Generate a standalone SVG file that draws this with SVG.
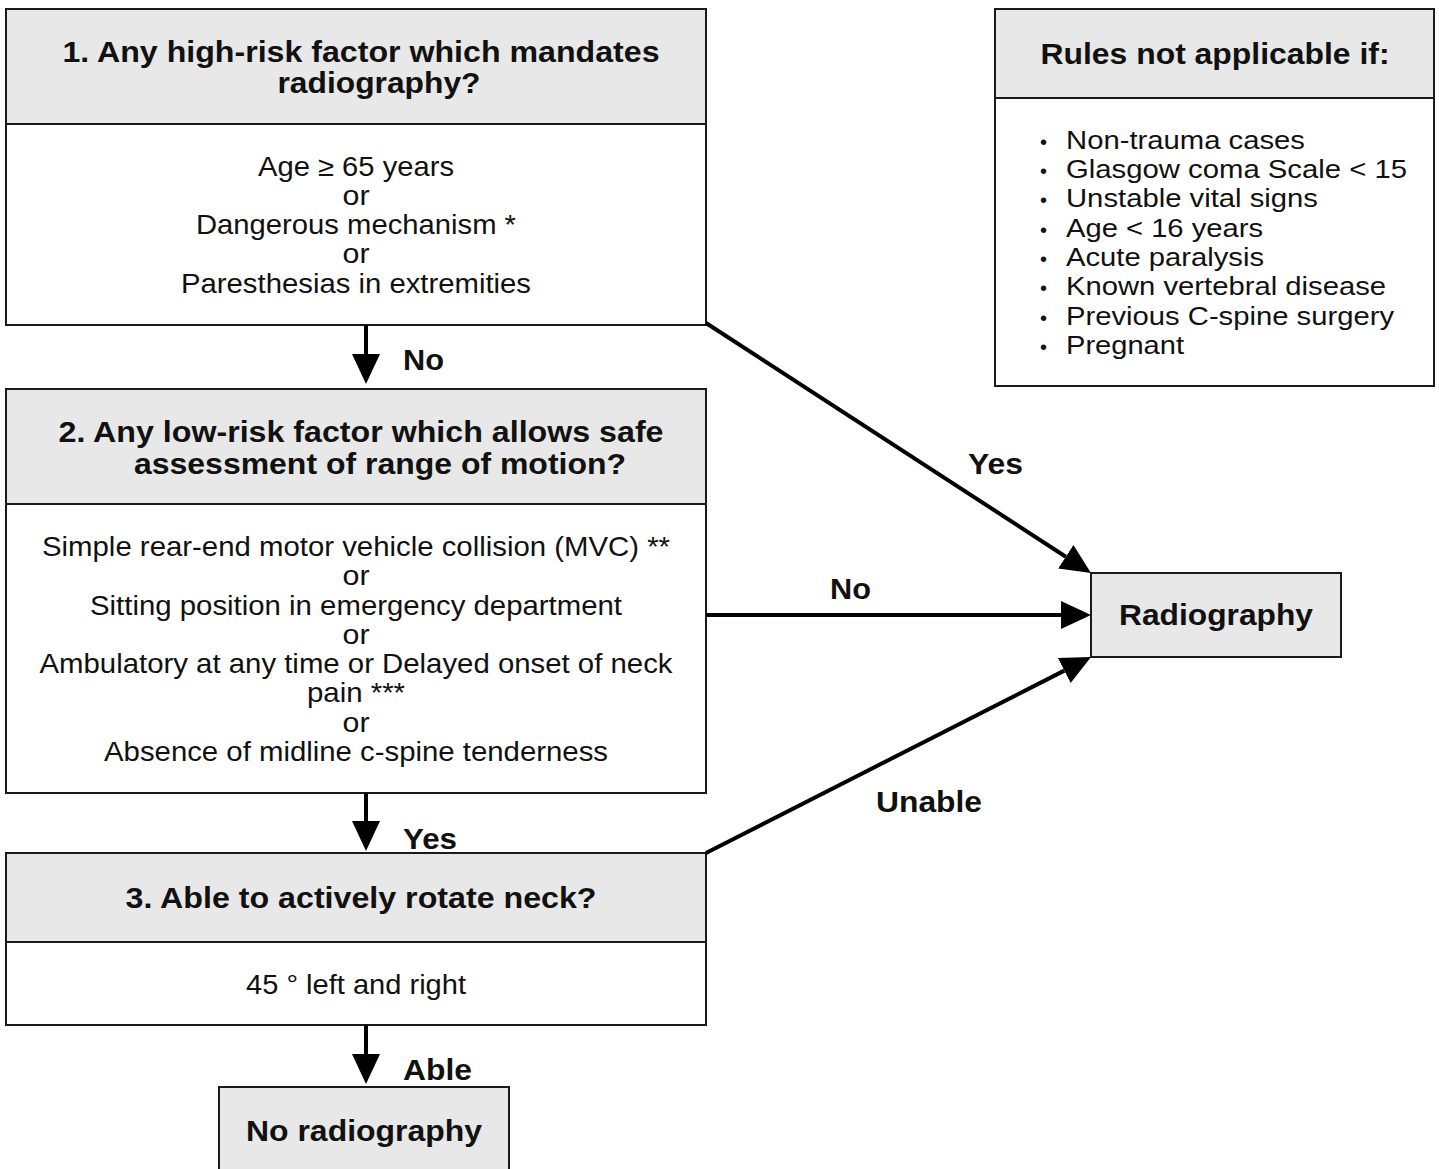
<svg xmlns="http://www.w3.org/2000/svg" width="1439" height="1169" viewBox="0 0 1439 1169">
<style>
.box{fill:#ffffff;stroke:#1a1a1a;stroke-width:2}
.hdr{fill:#e7e8e7;stroke:#1a1a1a;stroke-width:2}
.h{font-family:"Liberation Sans",Arial,sans-serif;font-weight:bold;font-size:30px;fill:#111;text-anchor:middle}
.t{font-family:"Liberation Sans",Arial,sans-serif;font-size:27.5px;fill:#111;text-anchor:middle}
.r{font-family:"Liberation Sans",Arial,sans-serif;font-size:26px;fill:#111}
.lbl{font-family:"Liberation Sans",Arial,sans-serif;font-weight:bold;font-size:29px;fill:#111}
.c{stroke:#000;stroke-width:4;fill:none;marker-end:url(#ah)}
</style>
<defs>
<marker id="ah" markerUnits="userSpaceOnUse" markerWidth="32" markerHeight="30" refX="0" refY="14" orient="auto" viewBox="0 0 32 28">
<path d="M0,0 L30,14 L0,28 z" fill="#000"/>
</marker>
</defs>
<rect width="1439" height="1169" fill="#fff"/>

<g id="node1">
<rect class="box" x="6" y="9" width="700" height="316"/>
<rect class="hdr" x="6" y="9" width="700" height="115"/>
<text class="h" x="361" y="62" textLength="597" lengthAdjust="spacingAndGlyphs">1. Any high-risk factor which mandates</text>
<text class="h" x="379" y="93" textLength="203" lengthAdjust="spacingAndGlyphs">radiography?</text>
<text class="t" x="356" y="176" textLength="196" lengthAdjust="spacingAndGlyphs">Age ≥ 65 years</text>
<text class="t" x="356" y="205" textLength="27" lengthAdjust="spacingAndGlyphs">or</text>
<text class="t" x="356" y="234" textLength="320" lengthAdjust="spacingAndGlyphs">Dangerous mechanism *</text>
<text class="t" x="356" y="263" textLength="27" lengthAdjust="spacingAndGlyphs">or</text>
<text class="t" x="356" y="293" textLength="350" lengthAdjust="spacingAndGlyphs">Paresthesias in extremities</text>
</g>

<g id="node2">
<rect class="box" x="6" y="389" width="700" height="404"/>
<rect class="hdr" x="6" y="389" width="700" height="115"/>
<text class="h" x="361" y="442" textLength="605" lengthAdjust="spacingAndGlyphs">2. Any low-risk factor which allows safe</text>
<text class="h" x="380" y="474" textLength="492" lengthAdjust="spacingAndGlyphs">assessment of range of motion?</text>
<text class="t" x="356" y="556" textLength="628" lengthAdjust="spacingAndGlyphs">Simple rear-end motor vehicle collision (MVC) **</text>
<text class="t" x="356" y="585" textLength="27" lengthAdjust="spacingAndGlyphs">or</text>
<text class="t" x="356" y="615" textLength="532" lengthAdjust="spacingAndGlyphs">Sitting position in emergency department</text>
<text class="t" x="356" y="644" textLength="27" lengthAdjust="spacingAndGlyphs">or</text>
<text class="t" x="356" y="673" textLength="633" lengthAdjust="spacingAndGlyphs">Ambulatory at any time or Delayed onset of neck</text>
<text class="t" x="356" y="702" textLength="98" lengthAdjust="spacingAndGlyphs">pain ***</text>
<text class="t" x="356" y="732" textLength="27" lengthAdjust="spacingAndGlyphs">or</text>
<text class="t" x="356" y="761" textLength="504" lengthAdjust="spacingAndGlyphs">Absence of midline c-spine tenderness</text>
</g>

<g id="node3">
<rect class="box" x="6" y="853" width="700" height="172"/>
<rect class="hdr" x="6" y="853" width="700" height="89"/>
<text class="h" x="361" y="908" textLength="471" lengthAdjust="spacingAndGlyphs">3. Able to actively rotate neck?</text>
<text class="t" x="356" y="994" textLength="220" lengthAdjust="spacingAndGlyphs">45 ° left and right</text>
</g>

<g id="noradio">
<rect class="hdr" x="219" y="1087" width="290" height="100"/>
<text class="h" x="364" y="1141" textLength="236" lengthAdjust="spacingAndGlyphs">No radiography</text>
</g>

<g id="radio">
<rect class="hdr" x="1091" y="573" width="250" height="84"/>
<text class="h" x="1216" y="625" textLength="194" lengthAdjust="spacingAndGlyphs">Radiography</text>
</g>

<g id="rules">
<rect class="box" x="995" y="9" width="439" height="377"/>
<rect class="hdr" x="995" y="9" width="439" height="89"/>
<text class="h" x="1215" y="64" textLength="349" lengthAdjust="spacingAndGlyphs">Rules not applicable if:</text>
<g class="r">
<text x="1040" y="149" font-size="20">•</text><text x="1066" y="149" textLength="239" lengthAdjust="spacingAndGlyphs">Non-trauma cases</text>
<text x="1040" y="178" font-size="20">•</text><text x="1066" y="178" textLength="341" lengthAdjust="spacingAndGlyphs">Glasgow coma Scale &lt; 15</text>
<text x="1040" y="207" font-size="20">•</text><text x="1066" y="207" textLength="252" lengthAdjust="spacingAndGlyphs">Unstable vital signs</text>
<text x="1040" y="237" font-size="20">•</text><text x="1066" y="237" textLength="197" lengthAdjust="spacingAndGlyphs">Age &lt; 16 years</text>
<text x="1040" y="266" font-size="20">•</text><text x="1066" y="266" textLength="198" lengthAdjust="spacingAndGlyphs">Acute paralysis</text>
<text x="1040" y="295" font-size="20">•</text><text x="1066" y="295" textLength="320" lengthAdjust="spacingAndGlyphs">Known vertebral disease</text>
<text x="1040" y="325" font-size="20">•</text><text x="1066" y="325" textLength="328" lengthAdjust="spacingAndGlyphs">Previous C-spine surgery</text>
<text x="1040" y="354" font-size="20">•</text><text x="1066" y="354" textLength="118" lengthAdjust="spacingAndGlyphs">Pregnant</text>
</g>
</g>

<g id="connectors">
<line class="c" x1="366" y1="325" x2="366" y2="354"/>
<line class="c" x1="366" y1="793" x2="366" y2="821"/>
<line class="c" x1="366" y1="1025" x2="366" y2="1054"/>
<line class="c" x1="706" y1="615" x2="1061" y2="615"/>
<line class="c" x1="706" y1="323" x2="1065.8" y2="556.7"/>
<line class="c" x1="706" y1="853" x2="1064.3" y2="670.6"/>
<text class="lbl" x="403" y="370" textLength="41" lengthAdjust="spacingAndGlyphs">No</text>
<text class="lbl" x="968" y="474" textLength="55" lengthAdjust="spacingAndGlyphs">Yes</text>
<text class="lbl" x="830" y="599" textLength="41" lengthAdjust="spacingAndGlyphs">No</text>
<text class="lbl" x="876" y="812" textLength="106" lengthAdjust="spacingAndGlyphs">Unable</text>
<text class="lbl" x="403" y="849" textLength="54" lengthAdjust="spacingAndGlyphs">Yes</text>
<text class="lbl" x="403" y="1080" textLength="69" lengthAdjust="spacingAndGlyphs">Able</text>
</g>
</svg>
